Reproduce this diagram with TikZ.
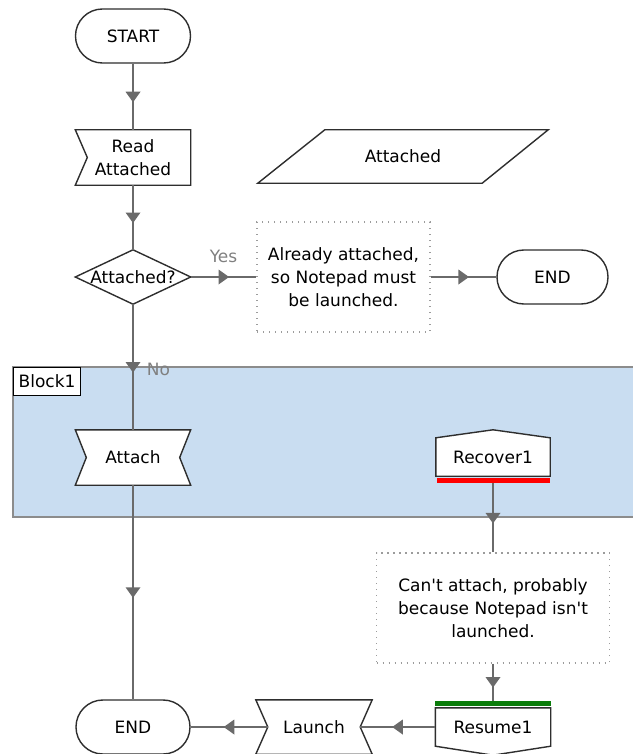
\documentclass[tikz,border=0pt]{standalone}
\usepackage{fontspec}
\setmainfont{DejaVu Sans}[Ligatures=TeXOff]
\usetikzlibrary{decorations.markings}

\definecolor{linegray}{HTML}{6A6A6A}
\definecolor{edgedark}{HTML}{2E2E2E}
\definecolor{blockblue}{HTML}{C9DDF1}
\definecolor{blockedge}{HTML}{8C8C8C}
\definecolor{notegray}{HTML}{9C9C9C}
\definecolor{labgray}{HTML}{808080}
\definecolor{recred}{HTML}{FF0000}
\definecolor{resgreen}{HTML}{0B7D0B}

\pgfdeclarelayer{back}
\pgfdeclarelayer{outline}
\pgfsetlayers{back,outline,main}

\tikzset{
  every node/.style={font=\fontsize{17}{23}\selectfont, align=center, inner sep=0pt},
  terminal/.style={draw=edgedark, line width=1.4pt, fill=white, rounded corners=26.9pt,
                   minimum width=#1, minimum height=54pt},
  shapeline/.style={draw=edgedark, line width=1.4pt, fill=white, line join=miter},
  note/.style={draw=notegray, line width=1.2pt, dash pattern=on 1.2pt off 4.8pt, fill=white},
  bar/.style={minimum height=5.5pt, inner sep=0pt},
  % connector with a filled triangle halfway along it
  flow/.style={draw=linegray, line width=1.7pt, postaction={decorate},
    decoration={markings, mark=at position 0.5 with
      {\fill[linegray] (5.5pt,0pt) -- (-5pt,7.5pt) -- (-5pt,-7.5pt) -- cycle;}}},
  lbl/.style={text=labgray}
}

\begin{document}
\begin{tikzpicture}[x=1pt,y=-1pt]
\useasboundingbox (0,0) rectangle (632,754);

% container band
\begin{pgfonlayer}{back}
  \fill[blockblue] (13,367) rectangle (645,517);
  \draw[blockedge, line width=1.4pt] (645,367) -- (13,367) -- (13,517) -- (645,517);
\end{pgfonlayer}
\node[draw=black, fill=white, line width=1.2pt, anchor=north west,
      minimum width=67pt, minimum height=28pt] (blocklbl) at (13,367) {Block1};

% terminals
\node[terminal=115pt] (start) at (133,36) {START};
\node[terminal=111pt] (end1) at (552.5,277) {END};
\node[terminal=114pt] (end2) at (133,727) {END};

% read step (notched left side)
\node[minimum width=115pt, minimum height=55pt] (read) at (133,157.5) {Read\\Attached};
\begin{pgfonlayer}{outline}
  \path[shapeline] (read.north west) -- (read.north east) -- (read.south east)
    -- (read.south west) -- ([xshift=12pt]read.west) -- cycle;
\end{pgfonlayer}

% data parallelogram
\node[minimum width=290pt, minimum height=53pt] (data) at (403,156.5) {Attached};
\begin{pgfonlayer}{outline}
  \path[shapeline] (data.south west) -- ([xshift=67pt]data.north west)
    -- (data.north east) -- ([xshift=-66pt]data.south east) -- cycle;
\end{pgfonlayer}

% decision
\node[minimum width=115pt, minimum height=54pt] (dec) at (133,277) {Attached?};
\begin{pgfonlayer}{outline}
  \path[shapeline] (dec.north) -- (dec.east) -- (dec.south) -- (dec.west) -- cycle;
\end{pgfonlayer}

% notes
\node[note, minimum width=173pt, minimum height=110pt] (note1) at (343.5,277)
  {Already attached,\\so Notepad must\\be launched.};
\node[note, minimum width=233pt, minimum height=110pt] (note2) at (493,608)
  {Can't attach, probably\\because Notepad isn't\\launched.};

% attach step (both sides notched)
\node[minimum width=115pt, minimum height=55pt] (attach) at (133,457.5) {Attach};
\begin{pgfonlayer}{outline}
  \path[shapeline] (attach.north west) -- (attach.north east)
    -- ([xshift=-11pt]attach.east) -- (attach.south east) -- (attach.south west)
    -- ([xshift=11pt]attach.west) -- cycle;
\end{pgfonlayer}

% recover handler
\node[minimum width=114pt, minimum height=38pt] (recover) at (493,457) {Recover1};
\begin{pgfonlayer}{outline}
  \path[shapeline] (recover.south west) -- (recover.north west)
    -- ([yshift=8pt]recover.north) -- (recover.north east) -- (recover.south east) -- cycle;
\end{pgfonlayer}
\node[bar, fill=recred, minimum width=113pt] (recbar) at (493,480.5) {};

% resume handler
\node[bar, fill=resgreen, minimum width=116pt] (resbar) at (493,703.5) {};
\node[minimum width=115pt, minimum height=38pt] (resume) at (493,727) {Resume1};
\begin{pgfonlayer}{outline}
  \path[shapeline] (resume.north west) -- (resume.north east) -- (resume.south east)
    -- ([yshift=-9pt]resume.south) -- (resume.south west) -- cycle;
\end{pgfonlayer}

% launch step (both sides notched, node spans the inner width)
\node[minimum width=92pt, minimum height=54pt] (launch) at (314,727) {Launch};
\begin{pgfonlayer}{outline}
  \path[shapeline] ([xshift=-12pt]launch.north west) -- ([xshift=12pt]launch.north east)
    -- (launch.east) -- ([xshift=12pt]launch.south east)
    -- ([xshift=-12pt]launch.south west) -- (launch.west) -- cycle;
\end{pgfonlayer}

% connectors
\draw[flow] (start) -- (read);
\draw[flow] (read) -- (dec);
\draw[flow] (dec.east) -- (note1.west)
  node[lbl, pos=0.5, anchor=base, yshift=15pt] {Yes};
\draw[flow] (note1) -- (end1);
\draw[flow] (dec.south) -- (attach.north)
  node[lbl, pos=0.5, anchor=base west, xshift=13pt, yshift=-8pt] {No};
\draw[flow] (attach) -- (end2);
\draw[flow] (recbar) -- (note2);
\draw[flow] (note2) -- (resbar);
\draw[flow] (resume) -- (launch);
\draw[flow] (launch) -- (end2);
\end{tikzpicture}
\end{document}
